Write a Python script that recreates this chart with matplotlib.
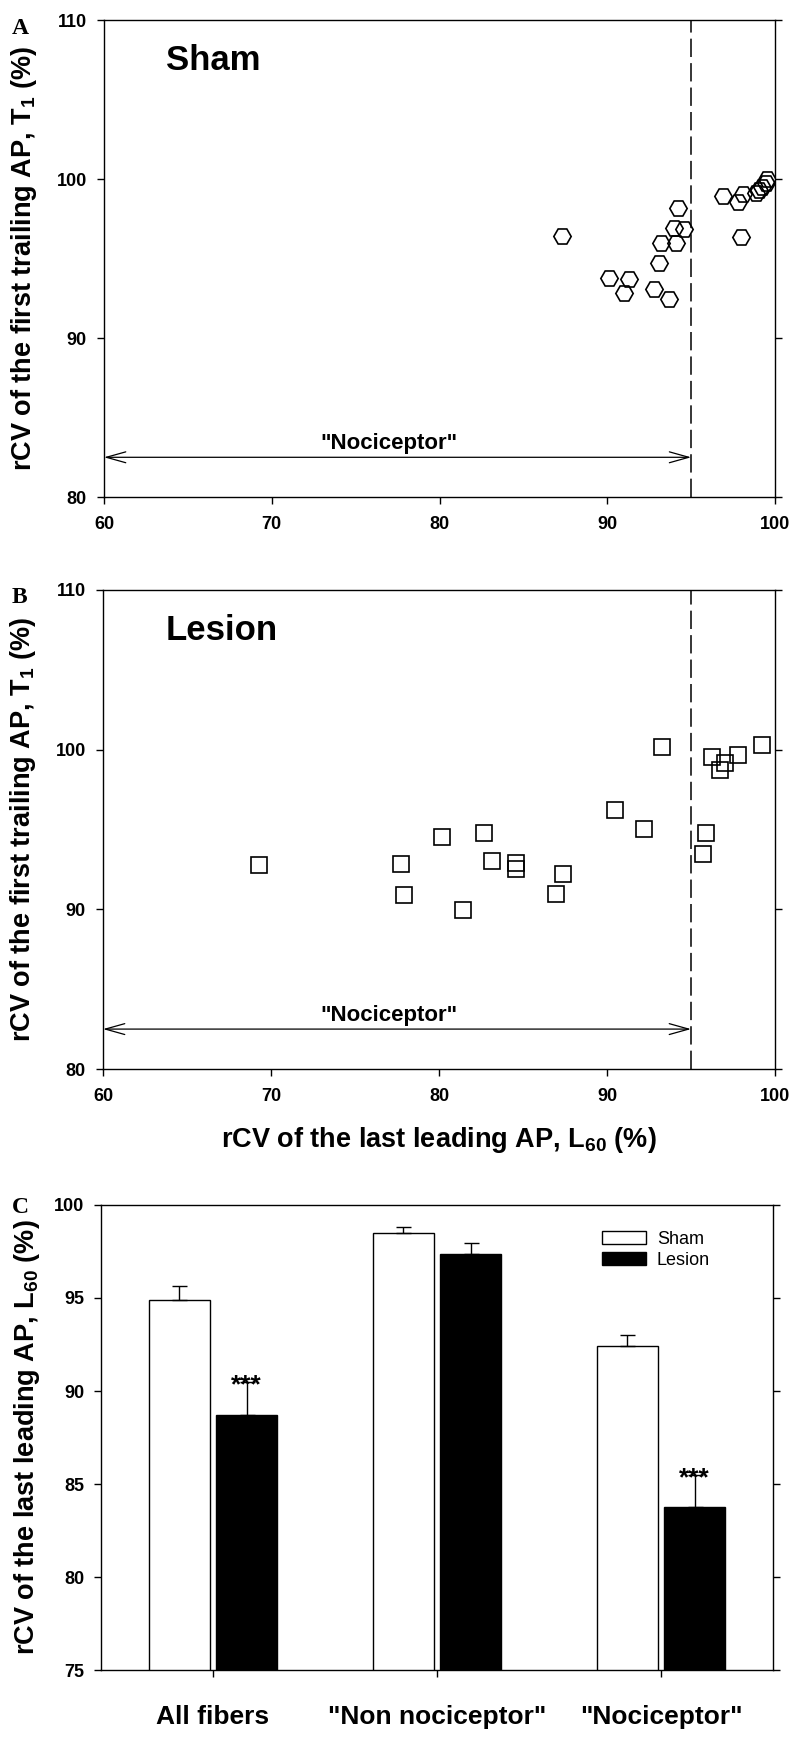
import matplotlib
matplotlib.use("Agg")
import matplotlib.pyplot as plt
import numpy as np
from matplotlib.patches import Patch

plt.rcParams["font.family"] = ["Liberation Sans", "DejaVu Sans"]
plt.rcParams["font.weight"] = "bold"
plt.rcParams["axes.labelweight"] = "bold"
plt.rcParams["mathtext.fontset"] = "custom"
plt.rcParams["mathtext.rm"] = "Liberation Sans:bold"
plt.rcParams["mathtext.default"] = "rm"

# panel A: sham fibers (L60, T1)
sham_x = [87.3, 90.1, 91.3, 91.0, 92.8, 93.7, 93.1, 93.2, 94.1, 94.0, 94.6,
          94.2, 96.9, 97.8, 98.1, 98.0, 98.85, 99.05, 99.25, 99.45, 99.55]
sham_y = [96.4, 93.75, 93.7, 92.85, 93.1, 92.45, 94.7, 95.95, 95.95, 96.9, 96.85,
          98.2, 98.95, 98.55, 99.05, 96.35, 99.1, 99.3, 99.5, 99.75, 100.0]

# panel B: lesion fibers (L60, T1)
lesion_x = [69.3, 77.75, 77.9, 80.2, 81.4, 82.7, 83.15, 84.6, 84.6, 87.4, 86.95,
            90.45, 92.2, 93.25, 95.9, 95.7, 96.25, 97.0, 96.75, 97.8, 99.25]
lesion_y = [92.75, 92.85, 90.9, 94.5, 89.95, 94.75, 93.0, 92.9, 92.5, 92.2, 90.95,
            96.2, 95.05, 100.15, 94.75, 93.45, 99.55, 99.15, 98.75, 99.65, 100.3]

# panel C: group means +/- SEM of L60
groups = ["All fibers", '"Non nociceptor"', '"Nociceptor"']
sham_mean = [94.88, 98.51, 92.44]
sham_sem = [0.77, 0.33, 0.59]
lesion_mean = [88.7, 97.39, 83.77]
lesion_sem = [1.79, 0.57, 1.69]
stars = ["***", "", "***"]

CUTOFF = 95
T1_LABEL = "rCV of the first trailing AP, T$_1$ (%)"
L60_LABEL = "rCV of the last leading AP, L$_{60}$ (%)"

fig = plt.figure(figsize=(8, 17.44), dpi=100)


def style_axes(ax):
    for side in ax.spines.values():
        side.set_linewidth(1.0)
    ax.tick_params(direction="out", length=5, width=1.0, labelsize=13)


def scatter_panel(ax, xs, ys, marker, ms, title):
    ax.plot(xs, ys, linestyle="none", marker=marker, ms=ms, mfc="none",
            mec="black", mew=1.2, zorder=3)
    ax.set_xlim(60, 100)
    ax.set_ylim(80, 110)
    ax.set_xticks([60, 70, 80, 90, 100])
    ax.set_yticks([80, 90, 100, 110])
    style_axes(ax)
    ax.tick_params(axis="y", right=True, pad=7.5)
    ax.tick_params(axis="x", pad=9)
    ax.axvline(CUTOFF, color="black", lw=1.1, linestyle=(0, (12, 4)))
    ax.annotate("", xy=(60, 82.5), xytext=(CUTOFF, 82.5),
                arrowprops=dict(arrowstyle="<->,head_length=1.0,head_width=0.28",
                                mutation_scale=14, lw=0.9, color="black",
                                shrinkA=0, shrinkB=0))
    ax.text(77.0, 83.0, '"Nociceptor"', ha="center", va="baseline", fontsize=16)
    ax.text(0.093, 0.896, title, transform=ax.transAxes, fontsize=25,
            ha="left", va="baseline")
    ax.set_ylabel(T1_LABEL, fontsize=19.5)
    ax.yaxis.set_label_coords(-0.097, 0.5)


ax_a = fig.add_axes([0.13, 0.715, 0.83875, 0.2735])
scatter_panel(ax_a, sham_x, sham_y, "H", 12.5, "Sham")

ax_b = fig.add_axes([0.12875, 0.38704, 0.84, 0.27466])
scatter_panel(ax_b, lesion_x, lesion_y, "s", 11.5, "Lesion")
ax_b.set_xlabel(L60_LABEL, fontsize=19.5)
ax_b.xaxis.set_label_coords(0.5, -0.116)

ax_c = fig.add_axes([0.12625, 0.04243, 0.84, 0.26663])
x = np.arange(len(groups))
w = 0.27
ax_c.bar(x - 0.15, sham_mean, w, color="white", edgecolor="black", lw=1.0,
         label="Sham", zorder=2)
ax_c.bar(x + 0.15, lesion_mean, w, color="black", edgecolor="black", lw=1.0,
         label="Lesion", zorder=2)
ax_c.errorbar(x - 0.15, sham_mean, yerr=[np.zeros(len(groups)), sham_sem],
              fmt="none", ecolor="black", elinewidth=1.0, capsize=5.4,
              capthick=1.0, zorder=3)
ax_c.errorbar(x + 0.15, lesion_mean, yerr=[np.zeros(len(groups)), lesion_sem],
              fmt="none", ecolor="black", elinewidth=1.0, capsize=5.4,
              capthick=1.0, zorder=3)
for xi, m, e, s in zip(x, lesion_mean, lesion_sem, stars):
    if s:
        ax_c.text(xi + 0.15, m + e - 0.55, s, ha="center", va="baseline",
                  fontsize=19)
ax_c.set_xlim(-0.5, 2.5)
ax_c.set_ylim(75, 100)
ax_c.set_yticks([75, 80, 85, 90, 95, 100])
ax_c.set_xticks(x)
ax_c.set_xticklabels(groups)
style_axes(ax_c)
ax_c.tick_params(axis="y", right=True, pad=7)
ax_c.tick_params(axis="x", labelsize=19, pad=20)
ax_c.set_ylabel(L60_LABEL, fontsize=19.5)
ax_c.yaxis.set_label_coords(-0.088, 0.5)
handles = [Patch(facecolor="white", edgecolor="black", lw=1.0, label="Sham"),
           Patch(facecolor="black", edgecolor="black", lw=1.0, label="Lesion")]
ax_c.legend(handles=handles, loc="upper left", bbox_to_anchor=(0.7455, 0.945),
            frameon=False, borderpad=0, borderaxespad=0, handlelength=2.44,
            handleheight=0.72, handletextpad=0.6, labelspacing=0.25,
            prop={"size": 13, "weight": "normal"})

for letter, yf in [("A", 0.9805), ("B", 0.6543), ("C", 0.3045)]:
    fig.text(0.015, yf, letter, family=["Liberation Serif", "DejaVu Serif"],
             fontsize=17, fontweight="bold", va="baseline", ha="left")

fig.savefig("out.png", dpi=100)
